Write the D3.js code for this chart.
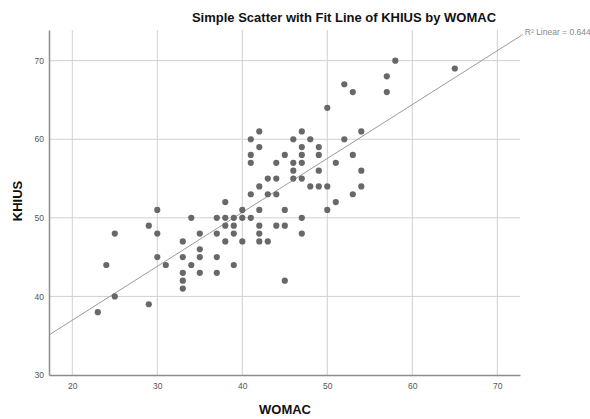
<!DOCTYPE html>
<html>
<head>
<meta charset="utf-8">
<script src="https://cdn.jsdelivr.net/npm/d3@7"></script>
<style>
  body { margin: 0; background: #fff; }
  svg { font-family: "Liberation Sans", Arial, sans-serif; }
</style>
</head>
<body>
<div id="chart"></div>
<script>
// WOMAC (x) and KHIUS (y) pairs
const womac = [23,24,25,25,29,29,30,30,30,31,
  33,33,33,33,33,34,34,35,35,35,35,
  37,37,37,37,38,38,38,38,39,39,39,39,
  40,40,40,41,42,42,42,42,43,44,45,45,45,
  42,41,46,42,41,45,41,44,46,46,43,44,46,42,41,43,44,
  58,65,57,52,53,57,50,47,54,48,52,47,49,47,49,53,47,51,49,54,47,48,49,50,54,53,51,50,47,47];
const khius = [38,44,48,40,49,39,51,48,45,44,
  47,45,43,42,41,50,44,48,46,45,43,
  50,48,45,43,52,50,49,47,50,49,48,44,
  51,50,47,50,51,49,48,47,47,49,51,49,42,
  61,60,60,59,58,58,57,57,57,56,55,55,55,54,53,53,53,
  70,69,68,67,66,66,64,61,61,60,60,59,59,58,58,58,57,57,56,56,55,54,54,54,54,53,52,51,50,48];

const xTicks = [20, 30, 40, 50, 60, 70];
const yTicks = [30, 40, 50, 60, 70];
// fit line
const fitIntercept = 23.25;
const fitSlope = 0.686;
const rSquared = "0.644";

const width = 590, height = 419;
const plotLeft = 49, plotRight = 520, plotTop = 30, plotBottom = 375;

const svg = d3.select("#chart").append("svg")
    .attr("width", width)
    .attr("height", height);

const x = d3.scaleLinear().domain([17.26, 72.67]).range([plotLeft, plotRight]);
const y = d3.scaleLinear().domain([30, 73.9]).range([plotBottom, plotTop]);

// grid
svg.selectAll("line.vgrid")
  .data(xTicks)
  .enter().append("line")
    .attr("class", "vgrid")
    .attr("x1", d => x(d)).attr("x2", d => x(d))
    .attr("y1", plotTop).attr("y2", plotBottom)
    .attr("stroke", "#d0d0d0").attr("stroke-width", 1);

svg.selectAll("line.hgrid")
  .data(yTicks.filter(d => d > 30))
  .enter().append("line")
    .attr("class", "hgrid")
    .attr("x1", plotLeft).attr("x2", plotRight)
    .attr("y1", d => y(d)).attr("y2", d => y(d))
    .attr("stroke", "#d0d0d0").attr("stroke-width", 1);

// axes
const xAxis = svg.append("g")
    .attr("transform", "translate(0," + plotBottom + ")")
    .call(d3.axisBottom(x).tickValues(xTicks).tickSize(0).tickPadding(8));
const yAxis = svg.append("g")
    .attr("transform", "translate(" + plotLeft + ",0)")
    .call(d3.axisLeft(y).tickValues(yTicks).tickSize(0).tickPadding(5));

[xAxis, yAxis].forEach(g => {
  g.select("path.domain").attr("stroke", "#8c8c8c").attr("stroke-width", 1.5);
  g.selectAll("text").attr("fill", "#555").style("font-size", "8.5px").attr("font-family", "Liberation Sans, Arial, sans-serif");
});

// fit line, running on past the frame to its label
const fitX0 = x.domain()[0], fitX1 = 73.0;
svg.append("line")
    .attr("x1", x(fitX0)).attr("y1", y(fitIntercept + fitSlope * fitX0))
    .attr("x2", x(fitX1)).attr("y2", y(fitIntercept + fitSlope * fitX1))
    .attr("stroke", "#9a9a9a").attr("stroke-width", 1);

svg.append("text")
    .attr("x", x(fitX1) + 2)
    .attr("y", y(fitIntercept + fitSlope * fitX1) + 1)
    .attr("fill", "#8a8a8a")
    .style("font-size", "8.5px")
    .text("R\u00B2 Linear = " + rSquared);

// points
svg.selectAll("circle.pt")
  .data(d3.range(womac.length))
  .enter().append("circle")
    .attr("class", "pt")
    .attr("cx", i => x(womac[i]))
    .attr("cy", i => y(khius[i]))
    .attr("r", 3.1)
    .attr("fill", "#686868");

// titles
svg.append("text")
    .attr("x", 344).attr("y", 22)
    .attr("text-anchor", "middle")
    .style("font-size", "13px").style("font-weight", "bold")
    .attr("fill", "#111")
    .text("Simple Scatter with Fit Line of KHIUS by WOMAC");

svg.append("text")
    .attr("x", 285).attr("y", 414)
    .attr("text-anchor", "middle")
    .style("font-size", "13px").style("font-weight", "bold")
    .attr("fill", "#111")
    .text("WOMAC");

svg.append("text")
    .attr("transform", "translate(22,201) rotate(-90)")
    .attr("text-anchor", "middle")
    .style("font-size", "13px").style("font-weight", "bold")
    .attr("fill", "#111")
    .text("KHIUS");
</script>
</body>
</html>
